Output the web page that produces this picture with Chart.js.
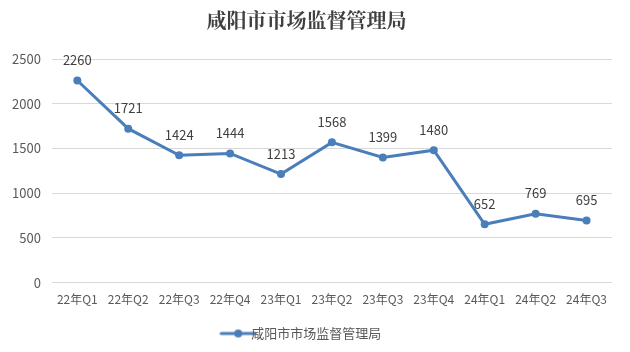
<!DOCTYPE html>
<html>
<head>
<meta charset="utf-8">
<script src="https://cdn.jsdelivr.net/npm/chart.js@4"></script>
<style>
  html, body { margin: 0; padding: 0; background: #fff; }
  #wrap { width: 630px; height: 352px; }
</style>
</head>
<body>
<div id="wrap"><canvas id="chart"></canvas></div>
<script>
// data
const quarters = ["22年Q1", "22年Q2", "22年Q3", "22年Q4", "23年Q1", "23年Q2",
                  "23年Q3", "23年Q4", "24年Q1", "24年Q2", "24年Q3"];
const counts = [2260, 1721, 1424, 1444, 1213, 1568, 1399, 1480, 652, 769, 695];
const yTicks = [0, 500, 1000, 1500, 2000, 2500];
const seriesName = "咸阳市市场监督管理局";

const blue = "#4a7ebb";
const font = "'Microsoft YaHei', 'Noto Sans CJK SC', sans-serif";

// legend marker: line with dot
const marker = document.createElement("canvas");
marker.width = 38; marker.height = 10;
(function () {
  const c = marker.getContext("2d");
  c.strokeStyle = blue; c.lineWidth = 3; c.lineCap = "round";
  c.beginPath(); c.moveTo(2, 5); c.lineTo(36, 5); c.stroke();
  c.fillStyle = blue;
  c.beginPath(); c.arc(19, 5, 4, 0, Math.PI * 2); c.fill();
})();

// value labels above the points
const valueLabels = {
  id: "valueLabels",
  afterDatasetsDraw(chart) {
    const ctx = chart.ctx;
    const meta = chart.getDatasetMeta(0);
    ctx.save();
    ctx.font = "13px " + font;
    ctx.fillStyle = "#404040";
    ctx.textAlign = "center";
    ctx.textBaseline = "bottom";
    meta.data.forEach((pt, i) => {
      ctx.fillText(String(counts[i]), pt.x, pt.y - 14);
    });
    ctx.restore();
  }
};

new Chart(document.getElementById("chart"), {
  type: "line",
  data: {
    labels: quarters,
    datasets: [{
      label: seriesName,
      data: counts,
      borderColor: blue,
      backgroundColor: blue,
      borderWidth: 3,
      pointRadius: 4,
      pointBackgroundColor: blue,
      pointBorderWidth: 0,
      tension: 0,
      fill: false,
      clip: false
    }]
  },
  options: {
    responsive: true,
    maintainAspectRatio: false,
    animation: false,
    layout: { padding: { left: 1, right: 18, top: 0, bottom: 2 } },
    plugins: {
      title: {
        display: true,
        text: seriesName,
        color: "#404040",
        font: { family: "'Noto Serif CJK SC', 'Noto Sans CJK SC', serif", size: 20, weight: "bold" },
        padding: { top: 8, bottom: 27 }
      },
      legend: {
        position: "bottom",
        labels: {
          usePointStyle: true,
          pointStyle: marker,
          color: "#595959",
          font: { family: font, size: 13 },
          padding: 18
        }
      },
      tooltip: { enabled: false }
    },
    scales: {
      x: {
        offset: true,
        grid: { display: false },
        border: { display: false },
        ticks: { color: "#595959", font: { family: font, size: 12 }, maxRotation: 0, autoSkip: false, padding: 2 }
      },
      y: {
        min: 0,
        max: 2500,
        afterBuildTicks: (axis) => { axis.ticks = yTicks.map(v => ({ value: v })); },
        grid: { color: "#d9d9d9", drawTicks: false },
        border: { display: false },
        ticks: {
          color: "#595959",
          font: { family: font, size: 13 },
          padding: 11,
          callback: (v) => String(v)
        }
      }
    }
  },
  plugins: [valueLabels]
});
</script>
</body>
</html>
